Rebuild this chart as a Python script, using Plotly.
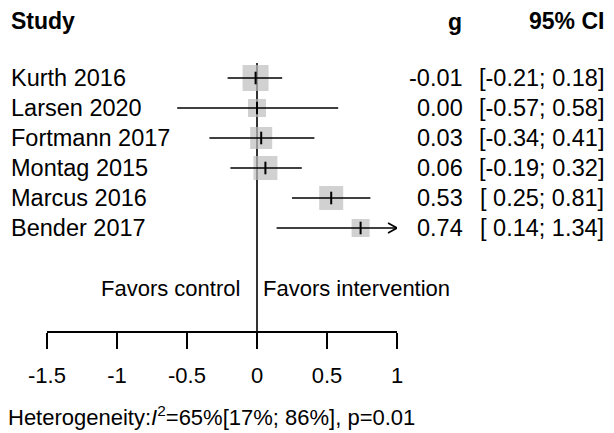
import plotly.graph_objects as go

# ---------------- data ----------------
studies = ["Kurth 2016", "Larsen 2020", "Fortmann 2017", "Montag 2015", "Marcus 2016", "Bender 2017"]
g_vals = [-0.01, 0.00, 0.03, 0.06, 0.53, 0.74]
ci_low = [-0.21, -0.57, -0.34, -0.19, 0.25, 0.14]
ci_high = [0.18, 0.58, 0.41, 0.32, 0.81, 1.34]
tick_vals = [-1.5, -1, -0.5, 0, 0.5, 1]
tick_text = ["-1.5", "-1", "-0.5", "0", "0.5", "1"]
heterogeneity = "Heterogeneity:<i>I</i><sup>2</sup>=65%[17%; 86%], p=0.01"
label_left = "Favors control"
label_right = "Favors intervention"

# ---------------- styles ----------------
OFF = 8                              # page (body) margin of the html page
W, H = 614 - 2 * OFF, 433 - OFF
FONT = "Liberation Sans, Arial, sans-serif"
box_sizes = [26, 18, 22, 24, 24, 18]
XMIN, XMAX = tick_vals[0], tick_vals[-1]
AX_LEFT_PX, AX_RIGHT_PX = 47, 397    # reference pixel x of -1.5 and 1
ROW0_PX, ROW_PX = 78, 30             # reference pixel centre of first row and row spacing
AXIS_PX = 332                        # reference pixel y of the x axis line


def px_x(p):          # reference pixel x -> paper x
    return (p - OFF) / W


def row_of(p):        # reference pixel y -> row coordinate
    return (p - ROW0_PX) / ROW_PX


def fmt(v):
    return f"{v:.2f}"


def fmt_ci(lo, hi):
    a = f"{lo:.2f}" if lo < 0 else f" {lo:.2f}"
    return f"[{a}; {hi:.2f}]"


rows = list(range(len(studies)))
y_top, y_bot = row_of(OFF), row_of(OFF + H)
px_per_unit = (AX_RIGHT_PX - AX_LEFT_PX) / (XMAX - XMIN)

fig = go.Figure()

# vertical line of no effect (behind squares)
fig.add_trace(go.Scatter(x=[0, 0], y=[-0.5, row_of(AXIS_PX)], mode="lines",
                         line=dict(color="black", width=1.6), hoverinfo="skip"))

# squares
fig.add_trace(go.Scatter(x=g_vals, y=rows, mode="markers",
                         marker=dict(symbol="square", size=box_sizes, color="#bebebe",
                                     line=dict(width=0)),
                         hoverinfo="skip"))

# confidence intervals (clipped to the x-limits, arrow when truncated)
for i in rows:
    lo = max(ci_low[i], XMIN)
    hi = min(ci_high[i], XMAX)
    fig.add_trace(go.Scatter(x=[lo, hi], y=[i, i], mode="lines",
                             line=dict(color="black", width=1.6), hoverinfo="skip"))
    if ci_high[i] > XMAX:
        dx = 9 / px_per_unit
        dy = 5 / ROW_PX
        fig.add_trace(go.Scatter(x=[XMAX - dx, XMAX, XMAX - dx], y=[i - dy, i, i + dy],
                                 mode="lines", line=dict(color="black", width=1.6),
                                 hoverinfo="skip"))

# estimate tick marks
fig.add_trace(go.Scatter(x=g_vals, y=rows, mode="markers",
                         marker=dict(symbol="line-ns", size=9,
                                     line=dict(color="black", width=2)),
                         hoverinfo="skip"))


def ann(text, xpx, y, anchor, size=22, bold=False):
    fig.add_annotation(text=f"<b>{text}</b>" if bold else text,
                       x=min(px_x(xpx), 1.0), xref="paper", y=y, yref="y",
                       xanchor=anchor, yanchor="middle", showarrow=False,
                       font=dict(family=FONT, size=size, color="black"))


# headers
ann("Study", 9, row_of(21), "left", size=23, bold=True)
ann("g", 455, row_of(22), "center", size=23, bold=True)
ann("95% CI", 609, row_of(21), "right", size=23, bold=True)

# rows
for i in rows:
    ann(studies[i], 9, i, "left", size=23.5)
    ann(fmt(g_vals[i]), 465, i, "right", size=23.5)
    ann(fmt_ci(ci_low[i], ci_high[i]), 610, i, "right", size=23.5)

# favours labels
ann(label_left, 242, row_of(288), "right", size=22)
ann(label_right, 261, row_of(288), "left", size=22)

# heterogeneity
ann(heterogeneity, 6, row_of(416), "left", size=22)

fig.update_layout(
    template="none",
    width=W, height=H,
    margin=dict(l=0, r=0, t=0, b=0, autoexpand=False),
    paper_bgcolor="white", plot_bgcolor="rgba(0,0,0,0)",
    showlegend=False,
    xaxis=dict(domain=[px_x(AX_LEFT_PX), px_x(AX_RIGHT_PX)], range=[XMIN, XMAX],
               anchor="free", position=1 - (AXIS_PX - OFF) / H,
               automargin=False,
               showgrid=False, zeroline=False,
               showline=True, linecolor="black", linewidth=1.6,
               ticks="outside", ticklen=16, tickwidth=1.6, tickcolor="black",
               tickvals=tick_vals, ticktext=tick_text,
               tickfont=dict(family=FONT, size=22, color="black"),
               ticklabelstandoff=8),
    yaxis=dict(domain=[0, 1], range=[y_bot, y_top], visible=False, automargin=False),
)

fig.write_html("out.html")
